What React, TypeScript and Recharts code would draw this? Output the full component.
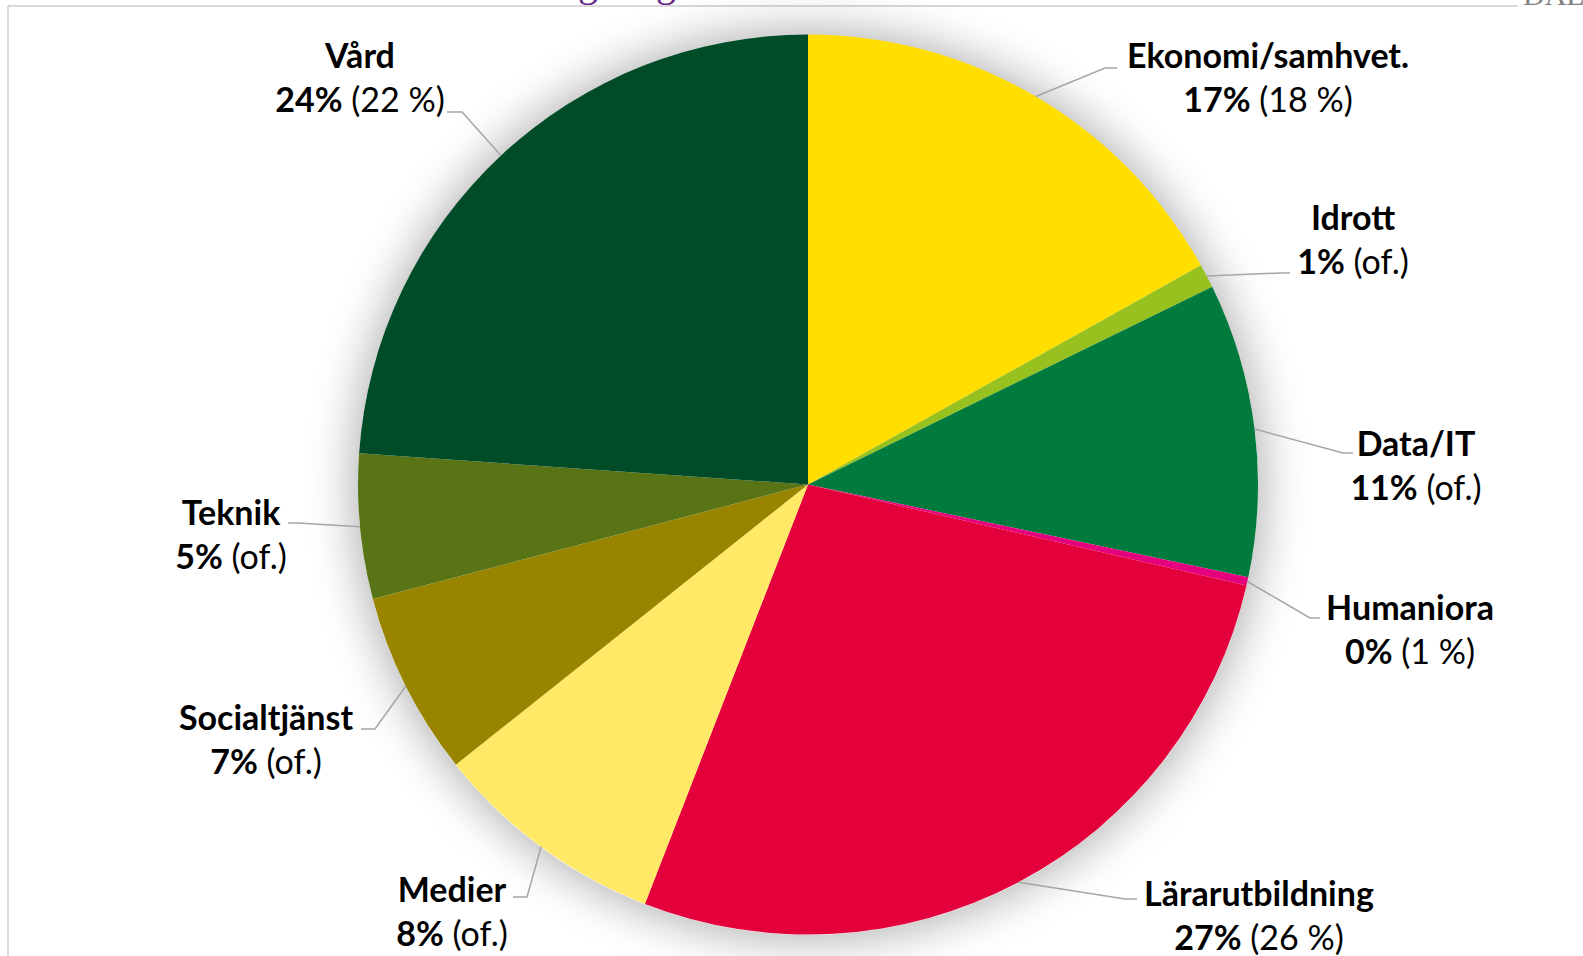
import { PieChart, Pie, Cell } from "recharts";

// slice order runs clockwise from 12 o'clock
const categories = [
  "Ekonomi/samhvet.",
  "Idrott",
  "Data/IT",
  "Humaniora",
  "Lärarutbildning",
  "Medier",
  "Socialtjänst",
  "Teknik",
  "Vård",
];
const shares = [16.9, 0.86, 10.55, 0.3, 27.3, 8.4, 6.6, 5.2, 23.9];
const shareLabels = ["17%", "1%", "11%", "0%", "27%", "8%", "7%", "5%", "24%"];
const priorLabels = ["(18 %)", "(of.)", "(of.)", "(1 %)", "(26 %)", "(of.)", "(of.)", "(of.)", "(22 %)"];

const colors = [
  "#FFDE00",
  "#97C11F",
  "#007A3D",
  "#E5007E",
  "#E4003B",
  "#FFE966",
  "#998400",
  "#587414",
  "#004B28",
];

// label text centre (first line) plus leader elbow / end points
const labelLayout = [
  { x: 1268, y: 56, elbow: [1105, 68], end: [1117, 68] },
  { x: 1353, y: 218, elbow: [1280, 273], end: [1290, 273] },
  { x: 1416, y: 444, elbow: [1343, 453], end: [1353, 453] },
  { x: 1410, y: 608, elbow: [1310, 618], end: [1320, 618] },
  { x: 1259, y: 894, elbow: [1125, 899], end: [1137, 899] },
  { x: 452, y: 890, elbow: [527, 897], end: [513, 897] },
  { x: 266, y: 718, elbow: [375, 729], end: [361, 729] },
  { x: 231, y: 513, elbow: [298, 523], end: [288, 523] },
  { x: 360, y: 56, elbow: [462, 112], end: [447, 112] },
];

const W = 1583;
const H = 956;
const CX = 808;
const CY = 484.5;
const R = 450;
const FONT = "Lato, 'Noto Sans', sans-serif";
const RAD = Math.PI / 180;

const data = categories.map((name, i) => ({ name, value: shares[i] }));

function SliceLabel(props: any) {
  const { cx, cy, midAngle, outerRadius, index } = props;
  const lay = labelLayout[index];
  const sx = cx + outerRadius * Math.cos(-midAngle * RAD);
  const sy = cy + outerRadius * Math.sin(-midAngle * RAD);
  return (
    <g>
      <polyline
        points={`${sx},${sy} ${lay.elbow[0]},${lay.elbow[1]} ${lay.end[0]},${lay.end[1]}`}
        fill="none"
        stroke="#A6A6A6"
        strokeWidth={1.5}
      />
      <text
        x={lay.x}
        y={lay.y + 12}
        textAnchor="middle"
        fontFamily={FONT}
        fontSize={34}
        fill="#000"
      >
        <tspan fontWeight="bold">{categories[index]}</tspan>
      </text>
      <text
        x={lay.x}
        y={lay.y + 56}
        textAnchor="middle"
        fontFamily={FONT}
        fontSize={34}
        fill="#000"
      >
        <tspan fontWeight="bold">{shareLabels[index]}</tspan>
        <tspan fontWeight="normal">{" " + priorLabels[index]}</tspan>
      </text>
    </g>
  );
}

export default function App() {
  return (
    <div style={{ position: "absolute", left: 0, top: 0, width: W, height: H, overflow: "hidden", background: "#fff" }}>
      <svg width={W} height={H} style={{ position: "absolute", left: 0, top: 0 }}>
        <line x1={8} y1={6} x2={1518} y2={6} stroke="#D9D9D9" strokeWidth={2} />
        <line x1={8} y1={6} x2={8} y2={H} stroke="#D9D9D9" strokeWidth={2} />
        <text x={578} y={-4} fontFamily="'Liberation Serif', serif" fontSize={40} fill="#6A2A8C">g</text>
        <text x={656} y={-4} fontFamily="'Liberation Serif', serif" fontSize={40} fill="#6A2A8C">g</text>
        <text x={1523} y={5} fontFamily="'Liberation Serif', serif" fontSize={30} fill="#7F7F7F">DAL</text>
      </svg>
      <div
        style={{
          position: "absolute",
          left: CX - R,
          top: CY - R,
          width: 2 * R,
          height: 2 * R,
          borderRadius: "50%",
          boxShadow: "0 0 45px 6px rgba(0,0,0,0.3)",
        }}
      />
      <div style={{ position: "absolute", left: 0, top: 0 }}>
        <PieChart width={W} height={H} margin={{ top: 0, right: 0, bottom: 0, left: 0 }}>
          <Pie
            data={data}
            dataKey="value"
            nameKey="name"
            cx={CX}
            cy={CY}
            outerRadius={R}
            startAngle={90}
            endAngle={-270}
            stroke="none"
            label={SliceLabel}
            labelLine={false}
            isAnimationActive={false}
          >
            {data.map((d, i) => (
              <Cell key={d.name} fill={colors[i]} />
            ))}
          </Pie>
        </PieChart>
      </div>
    </div>
  );
}
